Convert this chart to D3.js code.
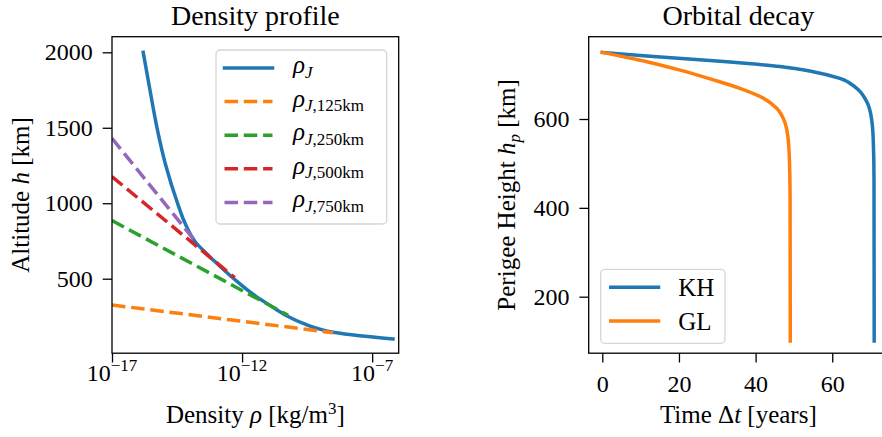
<!DOCTYPE html>
<html><head><meta charset="utf-8">
<script src="https://cdn.jsdelivr.net/npm/d3@7"></script>
<style>
body{margin:0;background:#fff}
svg{display:block}
text{font-family:"Liberation Serif",serif;fill:#000}
</style>
</head><body>
<svg id="c" width="882" height="437"></svg>
<script>
// ---------------- data ----------------
// Density profile rho_J (density in kg/m^3, altitude in km)
const profileDensity  = [1.58e-16, 2.88e-16, 5.37e-16, 1.17e-15, 3.31e-15, 6.31e-15, 1.58e-14, 3.55e-14, 7.76e-14, 4.57e-13, 3.55e-12, 1.26e-11, 5.13e-11, 2.51e-10, 7.24e-10, 3.16e-9, 3.31e-8, 6.31e-7];
const profileAltitude = [2000, 1750, 1500, 1250, 1000, 870, 745, 680, 624, 503, 381, 320, 255, 200, 172, 145, 122, 101];
// Exponential fits around reference altitudes (straight in log-lin)
const fit125Density = [1e-17, 3.16e-9];  const fit125Altitude = [326, 142];
const fit250Density = [1e-17, 5.89e-11]; const fit250Altitude = [885, 258];
const fit500Density = [1e-17, 5.25e-13]; const fit500Altitude = [1176, 507];
const fit750Density = [1e-17, 1.66e-14]; const fit750Altitude = [1430, 745];
const fitLabels = ["125km", "250km", "500km", "750km"];
// Orbital decay
const khTime   = [0, 11.6, 29.0, 46.4, 55.0, 62.0, 66.4, 69.0, 70.3, 70.7, 70.9, 70.95];
const khHeight = [750, 742, 731, 718, 706.5, 691.6, 669, 639, 598, 553, 463, 100];
const glTime   = [0, 11.6, 20.3, 29.0, 35.9, 42.0, 45.5, 47.4, 48.3, 48.8, 49.0, 49.05];
const glHeight = [750, 729, 710, 688, 669, 647, 624, 598, 568, 515, 425, 100];
// ticks
const densityTicks = [1e-17, 1e-12, 1e-7];
const densityTickExp = ["\u221217", "\u221212", "\u22127"];
const altitudeTicks = [500, 1000, 1500, 2000];
const timeTicks = [0, 20, 40, 60];
const perigeeTicks = [200, 400, 600];

const C = {blue:"#1f77b4", orange:"#ff7f0e", green:"#2ca02c", red:"#d62728", purple:"#9467bd"};
const LW = 3.5, DASH = "13.5,5.8", FS = 24, LFS = 25, SUB = 17, TFS = 28;

const svg = d3.select("#c");

// ---------------- left panel ----------------
const L = {x0:112, x1:398.7, y0:36.7, y1:353.2};
const xL = d3.scaleLog().domain([1e-17, Math.pow(10,-5.98)]).range([L.x0, L.x1]);
const yL = d3.scaleLinear().domain([6.4, 2103.4]).range([L.y1, L.y0]);

svg.append("clipPath").attr("id","clipL").append("rect")
  .attr("x",L.x0).attr("y",L.y0).attr("width",L.x1-L.x0).attr("height",L.y1-L.y0);

const gL = svg.append("g");
const lineL = d3.line().x(d=>xL(d[0])).y(d=>yL(d[1]));
const plotL = gL.append("g").attr("clip-path","url(#clipL)");

plotL.append("path").datum(d3.zip(profileDensity, profileAltitude))
  .attr("d", lineL.curve(d3.curveMonotoneY)).attr("fill","none")
  .attr("stroke",C.blue).attr("stroke-width",LW).attr("stroke-linecap","square");

const fits = [
  [fit125Density, fit125Altitude, C.orange],
  [fit250Density, fit250Altitude, C.green],
  [fit500Density, fit500Altitude, C.red],
  [fit750Density, fit750Altitude, C.purple]
];
const lineStraight = d3.line().x(d=>xL(d[0])).y(d=>yL(d[1]));
fits.forEach(f=>{
  plotL.append("path").datum(d3.zip(f[0], f[1]))
    .attr("d", lineStraight).attr("fill","none")
    .attr("stroke",f[2]).attr("stroke-width",LW).attr("stroke-dasharray",DASH);
});

// axes left
const axYL = gL.append("g").attr("transform",`translate(${L.x0},0)`)
  .call(d3.axisLeft(yL).tickValues(altitudeTicks).tickSize(9.3).tickPadding(10).tickFormat(d3.format("d")));
const axXL = gL.append("g").attr("transform",`translate(0,${L.y1})`)
  .call(d3.axisBottom(xL).tickValues(densityTicks).tickSize(9.3).tickFormat(""));
[axYL, axXL].forEach(a=>{
  a.select(".domain").remove();
  a.selectAll("line").attr("stroke","#000").attr("stroke-width",1.3);
  a.selectAll("text").attr("font-size",FS).attr("font-family","Liberation Serif").attr("fill","#000");
});
densityTicks.forEach((v,i)=>{
  const t = gL.append("text").attr("x",xL(v)).attr("y",381).attr("text-anchor","middle").attr("font-size",FS);
  t.append("tspan").text("10");
  t.append("tspan").attr("font-size",SUB).attr("dy",-10).text(densityTickExp[i]);
});
gL.append("rect").attr("x",L.x0).attr("y",L.y0).attr("width",L.x1-L.x0).attr("height",L.y1-L.y0)
  .attr("fill","none").attr("stroke","#000").attr("stroke-width",1.3);

// labels left
gL.append("text").attr("x",(L.x0+L.x1)/2).attr("y",25).attr("text-anchor","middle").attr("font-size",TFS).text("Density profile");
{
  const t = gL.append("text").attr("x",(L.x0+L.x1)/2).attr("y",422.7).attr("text-anchor","middle").attr("font-size",LFS);
  t.append("tspan").text("Density ");
  t.append("tspan").attr("font-style","italic").text("\u03c1");
  t.append("tspan").text(" [kg/m");
  t.append("tspan").attr("font-size",SUB).attr("dy",-9).text("3");
  t.append("tspan").attr("dy",9).text("]");
}
{
  const t = gL.append("text").attr("transform",`translate(28.5,${(L.y0+L.y1)/2}) rotate(-90)`)
    .attr("text-anchor","middle").attr("font-size",LFS);
  t.append("tspan").text("Altitude ");
  t.append("tspan").attr("font-style","italic").text("h");
  t.append("tspan").text(" [km]");
}

// legend left
{
  const lg = gL.append("g");
  lg.append("rect").attr("x",216).attr("y",50).attr("width",170.7).attr("height",174).attr("rx",4)
    .attr("fill","#fff").attr("fill-opacity",0.8).attr("stroke","#d6d6d6").attr("stroke-width",1.3);
  const items = [[C.blue,null,null]].concat(fits.map((f,i)=>[f[2],DASH,fitLabels[i]]));
  items.forEach((it,i)=>{
    const cy = 68 + i*33.6;
    const ln = lg.append("line").attr("x1",224.5).attr("x2",272.5).attr("y1",cy).attr("y2",cy)
      .attr("stroke",it[0]).attr("stroke-width",LW);
    if(it[1]) ln.attr("stroke-dasharray",it[1]); else ln.attr("stroke-linecap","square");
    const t = lg.append("text").attr("x",293).attr("y",cy+5).attr("font-size",LFS);
    t.append("tspan").attr("font-style","italic").text("\u03c1");
    t.append("tspan").attr("font-style","italic").attr("font-size",SUB).attr("dy",4.5).text("J");
    if(it[2]) t.append("tspan").attr("font-size",SUB).text(","+it[2]);
  });
}

// ---------------- right panel ----------------
const R = {x0:588.7, x1:888, y0:36.7, y1:353.2};
const xR = d3.scaleLinear().domain([-3.55, 74.55]).range([R.x0, R.x1]);
const yR = d3.scaleLinear().domain([72.8, 785.3]).range([R.y1, R.y0]);

svg.append("clipPath").attr("id","clipR").append("rect")
  .attr("x",R.x0).attr("y",R.y0).attr("width",R.x1-R.x0).attr("height",R.y1-R.y0);
const gR = svg.append("g");
const plotR = gR.append("g").attr("clip-path","url(#clipR)");
const lineR = d3.line().x(d=>xR(d[0])).y(d=>yR(d[1])).curve(d3.curveMonotoneY);
const decay = [[khTime, khHeight, C.blue, "KH"], [glTime, glHeight, C.orange, "GL"]];
decay.forEach(s=>{
  plotR.append("path").datum(d3.zip(s[0], s[1])).attr("d", lineR).attr("fill","none")
    .attr("stroke",s[2]).attr("stroke-width",LW).attr("stroke-linecap","square");
});

const axYR = gR.append("g").attr("transform",`translate(${R.x0},0)`)
  .call(d3.axisLeft(yR).tickValues(perigeeTicks).tickSize(9.3).tickPadding(10).tickFormat(d3.format("d")));
const axXR = gR.append("g").attr("transform",`translate(0,${R.y1})`)
  .call(d3.axisBottom(xR).tickValues(timeTicks).tickSize(9.3).tickPadding(12).tickFormat(d3.format("d")));
[axYR, axXR].forEach(a=>{
  a.select(".domain").remove();
  a.selectAll("line").attr("stroke","#000").attr("stroke-width",1.3);
  a.selectAll("text").attr("font-size",FS).attr("font-family","Liberation Serif").attr("fill","#000");
});
gR.append("rect").attr("x",R.x0).attr("y",R.y0).attr("width",R.x1-R.x0).attr("height",R.y1-R.y0)
  .attr("fill","none").attr("stroke","#000").attr("stroke-width",1.3);

gR.append("text").attr("x",(R.x0+R.x1)/2).attr("y",25).attr("text-anchor","middle").attr("font-size",TFS).text("Orbital decay");
{
  const t = gR.append("text").attr("x",(R.x0+R.x1)/2).attr("y",423).attr("text-anchor","middle").attr("font-size",LFS);
  t.append("tspan").text("Time \u0394");
  t.append("tspan").attr("font-style","italic").text("t");
  t.append("tspan").text(" [years]");
}
{
  const t = gR.append("text").attr("transform",`translate(515,${(R.y0+R.y1)/2}) rotate(-90)`)
    .attr("text-anchor","middle").attr("font-size",LFS);
  t.append("tspan").text("Perigee Height ");
  t.append("tspan").attr("font-style","italic").text("h");
  t.append("tspan").attr("font-style","italic").attr("font-size",SUB).attr("dy",4.5).text("p");
  t.append("tspan").attr("dy",-4.5).text(" [km]");
}
{
  const lg = gR.append("g");
  lg.append("rect").attr("x",600.7).attr("y",269.3).attr("width",124.3).attr("height",74).attr("rx",4)
    .attr("fill","#fff").attr("fill-opacity",0.8).attr("stroke","#d6d6d6").attr("stroke-width",1.3);
  decay.forEach((s,i)=>{
    const cy = 287.3 + i*33.7;
    lg.append("line").attr("x1",610.75).attr("x2",658.5).attr("y1",cy).attr("y2",cy)
      .attr("stroke",s[2]).attr("stroke-width",LW).attr("stroke-linecap","square");
    lg.append("text").attr("x",678.3).attr("y",cy+8.5).attr("font-size",LFS).text(s[3]);
  });
}
</script>
</body></html>
